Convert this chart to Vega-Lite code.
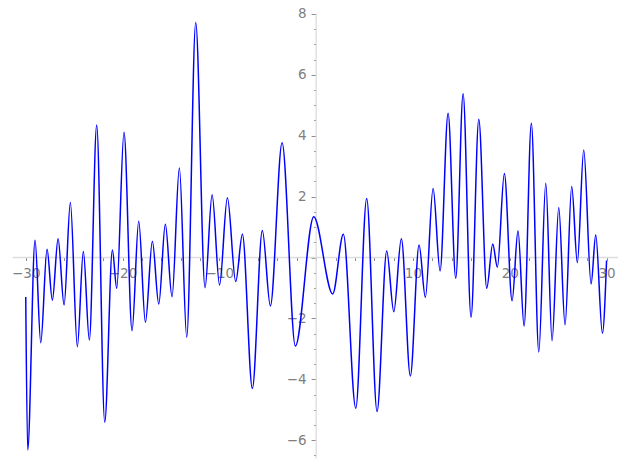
{
  "$schema": "https://vega.github.io/schema/vega-lite/v6.json",
  "width": 627,
  "height": 469,
  "autosize": {"type": "none"},
  "padding": 0,
  "background": "white",
  "config": {"view": {"stroke": null}},
  "data": {"values": [
    {"x": -30.0, "y": -1.30},
    {"x": -29.8, "y": -6.32},
    {"x": -29.04, "y": 0.57},
    {"x": -28.45, "y": -2.80},
    {"x": -27.8, "y": 0.27},
    {"x": -27.25, "y": -1.40},
    {"x": -26.66, "y": 0.62},
    {"x": -26.04, "y": -1.56},
    {"x": -25.39, "y": 1.81},
    {"x": -24.67, "y": -2.93},
    {"x": -24.05, "y": 0.20},
    {"x": -23.43, "y": -2.71},
    {"x": -22.67, "y": 4.35},
    {"x": -21.84, "y": -5.41},
    {"x": -21.05, "y": 0.25},
    {"x": -20.6, "y": -1.01},
    {"x": -19.85, "y": 4.11},
    {"x": -19.02, "y": -2.40},
    {"x": -18.33, "y": 1.19},
    {"x": -17.64, "y": -2.13},
    {"x": -16.92, "y": 0.53},
    {"x": -16.26, "y": -1.53},
    {"x": -15.58, "y": 1.09},
    {"x": -14.89, "y": -1.29},
    {"x": -14.13, "y": 2.94},
    {"x": -13.37, "y": -2.62},
    {"x": -12.44, "y": 7.72},
    {"x": -11.48, "y": -0.99},
    {"x": -10.75, "y": 2.06},
    {"x": -9.98, "y": -0.90},
    {"x": -9.17, "y": 1.96},
    {"x": -8.31, "y": -0.79},
    {"x": -7.62, "y": 0.76},
    {"x": -6.59, "y": -4.30},
    {"x": -5.56, "y": 0.89},
    {"x": -4.73, "y": -1.59},
    {"x": -3.52, "y": 3.77},
    {"x": -2.15, "y": -2.91},
    {"x": -0.25, "y": 1.34},
    {"x": 1.71, "y": -1.20},
    {"x": 2.81, "y": 0.76},
    {"x": 4.09, "y": -4.95},
    {"x": 5.22, "y": 1.94},
    {"x": 6.29, "y": -5.06},
    {"x": 7.29, "y": 0.21},
    {"x": 8.02, "y": -1.78},
    {"x": 8.80, "y": 0.62},
    {"x": 9.73, "y": -3.89},
    {"x": 10.63, "y": 0.41},
    {"x": 11.28, "y": -1.31},
    {"x": 12.08, "y": 2.27},
    {"x": 12.80, "y": -0.44},
    {"x": 13.63, "y": 4.74},
    {"x": 14.42, "y": -0.68},
    {"x": 15.18, "y": 5.38},
    {"x": 16.00, "y": -1.96},
    {"x": 16.80, "y": 4.54},
    {"x": 17.62, "y": -1.01},
    {"x": 18.24, "y": 0.44},
    {"x": 18.72, "y": -0.32},
    {"x": 19.44, "y": 2.76},
    {"x": 20.24, "y": -1.42},
    {"x": 20.85, "y": 0.88},
    {"x": 21.48, "y": -2.25},
    {"x": 22.23, "y": 4.41},
    {"x": 23.0, "y": -3.10},
    {"x": 23.72, "y": 2.44},
    {"x": 24.37, "y": -2.73},
    {"x": 25.06, "y": 1.64},
    {"x": 25.71, "y": -2.21},
    {"x": 26.40, "y": 2.33},
    {"x": 26.98, "y": -0.17},
    {"x": 27.64, "y": 3.53},
    {"x": 28.40, "y": -0.87},
    {"x": 28.88, "y": 0.74},
    {"x": 29.57, "y": -2.49},
    {"x": 30.0, "y": -0.10}
  ]},
  "encoding": {
    "x": {
      "field": "x", "type": "quantitative",
      "scale": {"domain": [-32.66, 32.11], "nice": false, "zero": false},
      "axis": {
        "orient": "bottom", "offset": -211.5, "domain": false, "grid": false, "title": null,
        "values": [-30, -28, -26, -24, -22, -20, -18, -16, -14, -12, -10, -8, -6, -4, -2, 0, 2, 4, 6, 8, 10, 12, 14, 16, 18, 20, 22, 24, 26, 28, 30],
        "format": "d",
        "labelExpr": "(datum.value % 10 === 0 && datum.value !== 0) ? datum.label : ''",
        "tickSize": 3, "tickColor": "#8c8c8c", "tickWidth": 1,
        "labelColor": "#7f7f7f", "labelFont": "DejaVu Sans", "labelFontSize": 13.5,
        "labelPadding": 6, "labelFlush": false, "labelOverlap": false
      }
    },
    "y": {
      "field": "y", "type": "quantitative",
      "scale": {"domain": [-6.946, 8.457], "nice": false, "zero": false},
      "axis": {
        "orient": "left", "offset": -316.1, "domain": false, "grid": false, "title": null,
        "values": [-6.5, -6, -5.5, -5, -4.5, -4, -3.5, -3, -2.5, -2, -1.5, -1, -0.5, 0, 0.5, 1, 1.5, 2, 2.5, 3, 3.5, 4, 4.5, 5, 5.5, 6, 6.5, 7, 7.5, 8],
        "format": "~g",
        "labelExpr": "(datum.value % 2 === 0 && datum.value !== 0) ? datum.label : ''",
        "tickSize": {"condition": {"test": "datum.value % 2 === 0", "value": 5}, "value": 2.5},
        "tickColor": "#8c8c8c", "tickWidth": 1,
        "labelColor": "#7f7f7f", "labelFont": "DejaVu Sans", "labelFontSize": 13.5,
        "labelPadding": 5, "labelFlush": false, "labelOverlap": false
      }
    }
  },
  "layer": [
    {
      "data": {"values": [{"x": -31.34, "xe": 31.19, "y": 0}]},
      "mark": {"type": "rule", "color": "#dddddd", "strokeWidth": 1.3},
      "encoding": {"x2": {"field": "xe"}}
    },
    {
      "data": {"values": [{"x": 0, "y": -6.6, "ye": 8.0}]},
      "mark": {"type": "rule", "color": "#dddddd", "strokeWidth": 1.3},
      "encoding": {"y2": {"field": "ye"}}
    },
    {
      "mark": {"type": "line", "color": "#0000ff", "strokeWidth": 1.5, "interpolate": "monotone"},
      "encoding": {}
    }
  ]
}
